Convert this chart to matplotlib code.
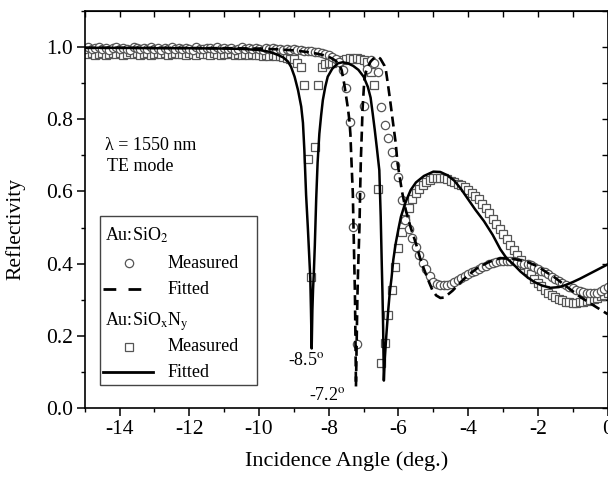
import matplotlib
matplotlib.use("Agg")
import matplotlib.pyplot as plt
from matplotlib.ticker import MultipleLocator, FormatStrFormatter
from matplotlib.patches import Rectangle
from matplotlib.lines import Line2D

plt.rcParams['font.family'] = ['Liberation Serif', 'DejaVu Serif']
plt.rcParams['mathtext.fontset'] = 'stix'
plt.rcParams['axes.unicode_minus'] = False

# ---------------- data ----------------
# measurement angles (deg), 0.1 deg steps
meas_angle = [
    -15.0, -14.9, -14.8, -14.7, -14.6, -14.5, -14.4, -14.3, -14.2, -14.1,
    -14.0, -13.9, -13.8, -13.7, -13.6, -13.5, -13.4, -13.3, -13.2, -13.1,
    -13.0, -12.9, -12.8, -12.7, -12.6, -12.5, -12.4, -12.3, -12.2, -12.1,
    -12.0, -11.9, -11.8, -11.7, -11.6, -11.5, -11.4, -11.3, -11.2, -11.1,
    -11.0, -10.9, -10.8, -10.7, -10.6, -10.5, -10.4, -10.3, -10.2, -10.1,
    -10.0, -9.9, -9.8, -9.7, -9.6, -9.5, -9.4, -9.3, -9.2, -9.1,
    -9.0, -8.9, -8.8, -8.7, -8.6, -8.5, -8.4, -8.3, -8.2, -8.1,
    -8.0, -7.9, -7.8, -7.7, -7.6, -7.5, -7.4, -7.3, -7.2, -7.1,
    -7.0, -6.9, -6.8, -6.7, -6.6, -6.5, -6.4, -6.3, -6.2, -6.1,
    -6.0, -5.9, -5.8, -5.7, -5.6, -5.5, -5.4, -5.3, -5.2, -5.1,
    -5.0, -4.9, -4.8, -4.7, -4.6, -4.5, -4.4, -4.3, -4.2, -4.1,
    -4.0, -3.9, -3.8, -3.7, -3.6, -3.5, -3.4, -3.3, -3.2, -3.1,
    -3.0, -2.9, -2.8, -2.7, -2.6, -2.5, -2.4, -2.3, -2.2, -2.1,
    -2.0, -1.9, -1.8, -1.7, -1.6, -1.5, -1.4, -1.3, -1.2, -1.1,
    -1.0, -0.9, -0.8, -0.7, -0.6, -0.5, -0.4, -0.3, -0.2, -0.1,
    0.0]

# Au:SiO2 measured (circles)
meas_sio2 = [
    0.996, 0.999, 0.994, 0.997, 1.000, 0.995, 0.998, 0.993, 0.997, 0.999,
    0.995, 0.998, 0.996, 0.993, 0.999, 0.997, 0.994, 0.998, 0.996, 1.000,
    0.995, 0.997, 0.993, 0.998, 0.996, 0.999, 0.994, 0.997, 0.995, 0.998,
    0.996, 0.993, 0.999, 0.996, 0.994, 0.998, 0.997, 0.995, 0.999, 0.994,
    0.997, 0.995, 0.998, 0.993, 0.996, 0.999, 0.995, 0.997, 0.994, 0.998,
    0.996, 0.993, 0.997, 0.995, 0.998, 0.994, 0.996, 0.993, 0.995, 0.992,
    0.994, 0.991, 0.993, 0.990, 0.989, 0.990, 0.987, 0.986, 0.983, 0.981,
    0.977, 0.972, 0.966, 0.958, 0.936, 0.886, 0.793, 0.502, 0.177, 0.590,
    0.837, 0.940, 0.965, 0.957, 0.932, 0.835, 0.784, 0.747, 0.710, 0.673,
    0.640, 0.575, 0.520, 0.497, 0.472, 0.447, 0.423, 0.403, 0.386, 0.366,
    0.350, 0.344, 0.342, 0.341, 0.342, 0.345, 0.350, 0.355, 0.360, 0.365,
    0.370, 0.376, 0.381, 0.386, 0.390, 0.394, 0.398, 0.401, 0.404, 0.406,
    0.407, 0.408, 0.408, 0.407, 0.405, 0.403, 0.400, 0.398, 0.395, 0.392,
    0.386, 0.381, 0.376, 0.370, 0.364, 0.358, 0.352, 0.346, 0.341, 0.336,
    0.332, 0.328, 0.325, 0.322, 0.320, 0.318, 0.318, 0.320, 0.325, 0.330,
    0.335]

# Au:SiOxNy measured (squares)
meas_sioxny = [
    0.983, 0.980, 0.985, 0.979, 0.982, 0.984, 0.978, 0.981, 0.985, 0.980,
    0.983, 0.979, 0.982, 0.986, 0.980, 0.983, 0.978, 0.982, 0.984, 0.979,
    0.981, 0.985, 0.980, 0.983, 0.978, 0.982, 0.984, 0.980, 0.982, 0.979,
    0.983, 0.981, 0.978, 0.984, 0.980, 0.982, 0.979, 0.983, 0.981, 0.977,
    0.982, 0.980, 0.983, 0.978, 0.981, 0.979, 0.982, 0.977, 0.980, 0.978,
    0.979, 0.976, 0.978, 0.975, 0.977, 0.974, 0.975, 0.972, 0.971, 0.968,
    0.966, 0.955, 0.945, 0.895, 0.690, 0.364, 0.724, 0.895, 0.945, 0.952,
    0.955, 0.957, 0.960, 0.962, 0.963, 0.968, 0.970, 0.968, 0.969, 0.967,
    0.963, 0.958, 0.930, 0.895, 0.608, 0.125, 0.179, 0.258, 0.327, 0.391,
    0.442, 0.488, 0.525, 0.555, 0.578, 0.595, 0.608, 0.618, 0.626, 0.632,
    0.636, 0.638, 0.638, 0.636, 0.634, 0.630, 0.626, 0.622, 0.617, 0.612,
    0.605, 0.597, 0.588, 0.578, 0.566, 0.553, 0.540, 0.525, 0.510, 0.496,
    0.482, 0.468, 0.453, 0.438, 0.424, 0.410, 0.396, 0.382, 0.370, 0.358,
    0.347, 0.337, 0.328, 0.320, 0.313, 0.307, 0.302, 0.298, 0.295, 0.293,
    0.292, 0.292, 0.293, 0.295, 0.297, 0.300, 0.303, 0.306, 0.310, 0.314,
    0.318]

# Au:SiO2 fitted curve (angle, reflectivity)
fit_sio2 = [
    (-15.0, 0.998), (-13.0, 0.998), (-11.0, 0.997), (-10.0, 0.996),
    (-9.5, 0.994), (-9.0, 0.991), (-8.5, 0.985), (-8.2, 0.979),
    (-8.0, 0.973), (-7.9, 0.968), (-7.8, 0.962), (-7.7, 0.952),
    (-7.63, 0.936), (-7.56, 0.900), (-7.5, 0.862), (-7.45, 0.830),
    (-7.41, 0.798), (-7.38, 0.760), (-7.36, 0.710), (-7.33, 0.640),
    (-7.31, 0.595), (-7.29, 0.500), (-7.27, 0.410), (-7.25, 0.320),
    (-7.235, 0.200), (-7.22, 0.059), (-7.20, 0.180), (-7.18, 0.300),
    (-7.16, 0.380), (-7.14, 0.440), (-7.12, 0.500), (-7.10, 0.600),
    (-7.08, 0.687), (-7.05, 0.770), (-7.03, 0.830), (-6.98, 0.909),
    (-6.93, 0.932), (-6.88, 0.945), (-6.80, 0.960), (-6.72, 0.968),
    (-6.65, 0.973), (-6.58, 0.972), (-6.52, 0.968), (-6.46, 0.958),
    (-6.40, 0.948), (-6.36, 0.935), (-6.30, 0.895), (-6.25, 0.860),
    (-6.17, 0.800), (-6.08, 0.734), (-6.03, 0.680), (-5.90, 0.600),
    (-5.79, 0.548), (-5.65, 0.500), (-5.50, 0.456), (-5.38, 0.415),
    (-5.27, 0.385), (-5.15, 0.355), (-5.03, 0.327), (-4.92, 0.312),
    (-4.80, 0.305), (-4.70, 0.306), (-4.60, 0.313), (-4.45, 0.325),
    (-4.30, 0.340), (-4.15, 0.355), (-4.0, 0.368), (-3.75, 0.387),
    (-3.4, 0.405), (-3.08, 0.415), (-2.7, 0.413), (-2.31, 0.405),
    (-2.0, 0.392), (-1.74, 0.375), (-1.55, 0.364), (-1.2, 0.338),
    (-0.79, 0.308), (-0.4, 0.284), (0.0, 0.260)]

# Au:SiOxNy fitted curve (angle, reflectivity)
fit_sioxny = [
    (-15.0, 0.998), (-14.0, 0.998), (-13.0, 0.997), (-12.0, 0.997),
    (-11.0, 0.996), (-10.5, 0.995), (-10.0, 0.992), (-9.7, 0.987),
    (-9.45, 0.978), (-9.3, 0.971), (-9.17, 0.960), (-9.08, 0.945),
    (-8.98, 0.918), (-8.88, 0.880), (-8.79, 0.835), (-8.74, 0.790),
    (-8.70, 0.715), (-8.65, 0.590), (-8.60, 0.500), (-8.56, 0.420),
    (-8.53, 0.360), (-8.51, 0.270), (-8.49, 0.165), (-8.47, 0.270),
    (-8.45, 0.330), (-8.43, 0.370), (-8.40, 0.450), (-8.36, 0.580),
    (-8.32, 0.680), (-8.27, 0.760), (-8.22, 0.810), (-8.17, 0.853),
    (-8.10, 0.890), (-8.03, 0.918), (-7.9, 0.940), (-7.74, 0.955),
    (-7.6, 0.958), (-7.45, 0.955), (-7.3, 0.948), (-7.15, 0.937),
    (-7.0, 0.918), (-6.88, 0.890), (-6.80, 0.860), (-6.74, 0.816),
    (-6.68, 0.770), (-6.62, 0.720), (-6.58, 0.685), (-6.55, 0.659),
    (-6.51, 0.530), (-6.48, 0.400), (-6.46, 0.320), (-6.44, 0.220),
    (-6.42, 0.076), (-6.39, 0.140), (-6.35, 0.200), (-6.30, 0.265),
    (-6.25, 0.320), (-6.20, 0.360), (-6.15, 0.410), (-6.08, 0.456),
    (-6.00, 0.497), (-5.93, 0.530), (-5.80, 0.570), (-5.65, 0.604),
    (-5.50, 0.625), (-5.27, 0.643), (-5.0, 0.655), (-4.8, 0.654),
    (-4.6, 0.645), (-4.4, 0.630), (-4.2, 0.606), (-4.0, 0.578),
    (-3.8, 0.550), (-3.55, 0.518), (-3.3, 0.480), (-3.08, 0.440),
    (-2.9, 0.415), (-2.7, 0.398), (-2.5, 0.378), (-2.3, 0.362),
    (-2.1, 0.349), (-1.9, 0.340), (-1.65, 0.333), (-1.4, 0.335),
    (-1.2, 0.341), (-1.0, 0.349), (-0.8, 0.358), (-0.6, 0.368),
    (-0.4, 0.378), (-0.2, 0.388), (0.0, 0.398)]

x_ticks = [-14, -12, -10, -8, -6, -4, -2, 0]
y_ticks = [0.0, 0.2, 0.4, 0.6, 0.8, 1.0]

# ---------------- figure ----------------
fig = plt.figure(figsize=(6.08, 4.79), dpi=100)
ax = fig.add_axes([0.1393, 0.1482, 0.8602, 0.8288])

mk_edge = '#555555'
ax.plot(meas_angle, meas_sioxny, linestyle='none', marker='s', ms=5.6,
        mfc='white', mec=mk_edge, mew=0.9, zorder=2)
ax.plot(meas_angle, meas_sio2, linestyle='none', marker='o', ms=6.0,
        mfc='white', mec=mk_edge, mew=0.9, zorder=2.1)

fx1 = [p[0] for p in fit_sio2]
fy1 = [p[1] for p in fit_sio2]
fx2 = [p[0] for p in fit_sioxny]
fy2 = [p[1] for p in fit_sioxny]
ax.plot(fx1, fy1, color='black', lw=1.9, linestyle=(0, (3.8, 2.0)), zorder=3)
ax.plot(fx2, fy2, color='black', lw=1.8, linestyle='-', zorder=3.1)

ax.set_xlim(-15, 0)
ax.set_ylim(0, 1.1)
ax.set_xticks(x_ticks)
ax.set_yticks(y_ticks)
ax.xaxis.set_minor_locator(MultipleLocator(1))
ax.yaxis.set_minor_locator(MultipleLocator(0.1))
ax.yaxis.set_major_formatter(FormatStrFormatter('%.1f'))
ax.tick_params(which='major', direction='out', length=5.5, width=1.1,
               labelsize=15.5, pad=3)
ax.tick_params(which='minor', direction='out', length=3, width=1.0)
for s in ax.spines.values():
    s.set_linewidth(1.2)

top = ax.secondary_xaxis('top')
top.set_xticks(x_ticks)
top.xaxis.set_minor_locator(MultipleLocator(1))
top.tick_params(which='both', direction='in', length=4, width=1.0,
                labeltop=False)
right = ax.secondary_yaxis('right')
right.set_yticks(y_ticks)
right.yaxis.set_minor_locator(MultipleLocator(0.1))
right.tick_params(which='both', direction='in', length=4, width=1.0,
                  labelright=False)

ax.set_xlabel('Incidence Angle (deg.)', fontsize=16)
ax.xaxis.set_label_coords(0.5, -0.108)
ax.set_ylabel('Reflectivity', fontsize=15.5)
ax.yaxis.set_label_coords(-0.114, 0.451)

# annotations
ax.text(-14.42, 0.728, 'λ = 1550 nm', fontsize=13, va='center', ha='left')
ax.text(-14.37, 0.668, 'TE mode', fontsize=13, va='center', ha='left')
ax.text(-9.17, 0.133, r'-8.5$^{\mathrm{o}}$', fontsize=13, va='center', ha='left')
ax.text(-8.56, 0.036, r'-7.2$^{\mathrm{o}}$', fontsize=13, va='center', ha='left')

# legend (drawn in axes coordinates)
T = ax.transAxes
ax.add_patch(Rectangle((0.0293, 0.0579), 0.2996, 0.4257, transform=T,
                       facecolor='white', edgecolor='#444444', lw=1.0, zorder=5))
fs = 13
ax.text(0.039, 0.4358, r'Au:SiO$_{\mathrm{2}}$', transform=T, fontsize=fs,
        va='center', zorder=6)
ax.add_line(Line2D([0.0847], [0.3652], transform=T, marker='o', ms=6.0,
                   mfc='white', mec=mk_edge, mew=0.9, ls='none', zorder=6))
ax.text(0.1593, 0.3652, 'Measured', transform=T, fontsize=fs, va='center', zorder=6)
ax.add_line(Line2D([0.035, 0.1096], [0.2997, 0.2997], transform=T, color='black',
                   lw=2.0, ls=(0, (4.6, 4.4)), zorder=6))
ax.text(0.1593, 0.2997, 'Fitted', transform=T, fontsize=fs, va='center', zorder=6)
ax.text(0.039, 0.2166, r'Au:SiO$_{\mathrm{x}}$N$_{\mathrm{y}}$', transform=T,
        fontsize=fs, va='center', zorder=6)
ax.add_line(Line2D([0.0847], [0.1537], transform=T, marker='s', ms=5.6,
                   mfc='white', mec=mk_edge, mew=0.9, ls='none', zorder=6))
ax.text(0.1593, 0.1537, 'Measured', transform=T, fontsize=fs, va='center', zorder=6)
ax.add_line(Line2D([0.035, 0.1306], [0.0907, 0.0907], transform=T, color='black',
                   lw=2.0, ls='-', zorder=6))
ax.text(0.1593, 0.0907, 'Fitted', transform=T, fontsize=fs, va='center', zorder=6)

fig.savefig('out.png', dpi=100)
